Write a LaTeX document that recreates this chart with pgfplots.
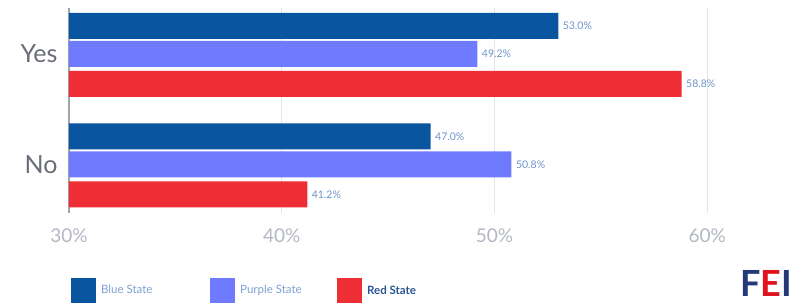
\documentclass[border=0pt]{standalone}
\usepackage{pgfplots}
\pgfplotsset{compat=1.18}
\usepackage{fontspec}
\setmainfont{Lato}
\definecolor{cblue}{HTML}{0A559F}
\definecolor{cpurple}{HTML}{6E7BFF}
\definecolor{cred}{HTML}{EE2D35}
\definecolor{tickgray}{HTML}{B3B7C2}
\definecolor{labgray}{HTML}{6A6D77}
\definecolor{valblue}{HTML}{6E94C8}
\definecolor{legblue}{HTML}{7EA1CF}
\definecolor{legdark}{HTML}{2B5592}
\definecolor{gridgray}{HTML}{E2E5EC}
\definecolor{axgray}{HTML}{A0A4AD}
\definecolor{navy}{HTML}{24397A}
\definecolor{logored}{HTML}{E0141E}
\begin{document}
\begin{tikzpicture}
\useasboundingbox (0,0) rectangle (801pt,303pt);
\begin{axis}[
  at={(69pt,90pt)}, anchor=south west,
  scale only axis, width=702pt, height=205pt,
  xbar, bar width=26pt,
  xmin=30, xmax=63, ymin=-0.44, ymax=1.416,
  separate axis lines,
  axis y line*=left, axis x line*=bottom,
  x axis line style={draw=none},
  y axis line style={draw=axgray, line width=1.5pt},
  xtick={30,40,50,60},
  xticklabel={\pgfmathprintnumber{\tick}\%},
  /pgf/number format/assume math mode=true,
  xticklabel style={font=\fontsize{19}{19}\selectfont, text=tickgray, yshift=-12pt},
  ytick={0,1}, yticklabels={No,Yes},
  yticklabel style={font=\fontsize{25}{25}\selectfont, text=labgray, xshift=-8pt},
  major tick length=0pt,
  xmajorgrids, grid style={draw=gridgray, line width=1pt},
  nodes near coords={\pgfmathprintnumber[fixed,fixed zerofill,precision=1]{\pgfplotspointmeta}\%},
  point meta=x,
  every node near coord/.append style={font=\fontsize{10.5}{10.5}\selectfont, text=valblue, anchor=west, xshift=1pt},
  legend style={at={(-0.0015,-0.378)}, anchor=west, draw=none, fill=none,
    legend columns=3, nodes={inner sep=0pt},
    /tikz/every odd column/.append style={column sep=5pt},
    font=\fontsize{11.5}{11.5}\selectfont},
  legend image code/.code={\fill[#1,draw=none] (0pt,-12.5pt) rectangle (25pt,12.5pt);},
]
\addplot[fill=cblue, draw=none, bar shift=28pt] coordinates {(47.0,0) (53.0,1)};
\addlegendentry{\makebox[109pt][l]{\textcolor{legblue}{Blue State}}}
\addplot[fill=cpurple, draw=none, bar shift=0pt] coordinates {(50.8,0) (49.2,1)};
\addlegendentry{\makebox[97pt][l]{\textcolor{legblue}{Purple State}}}
\addplot[fill=cred, draw=none, bar shift=-30pt] coordinates {(41.2,0) (58.8,1)};
\addlegendentry{\textcolor{legdark}{\bfseries Red State}}
\end{axis}
\node[anchor=base west, inner sep=0pt, font=\fontsize{36}{36}\selectfont\bfseries] at (740pt,7pt) {\textcolor{navy}{F}\textcolor{logored}{E}\textcolor{navy}{I}};
\end{tikzpicture}
\end{document}
